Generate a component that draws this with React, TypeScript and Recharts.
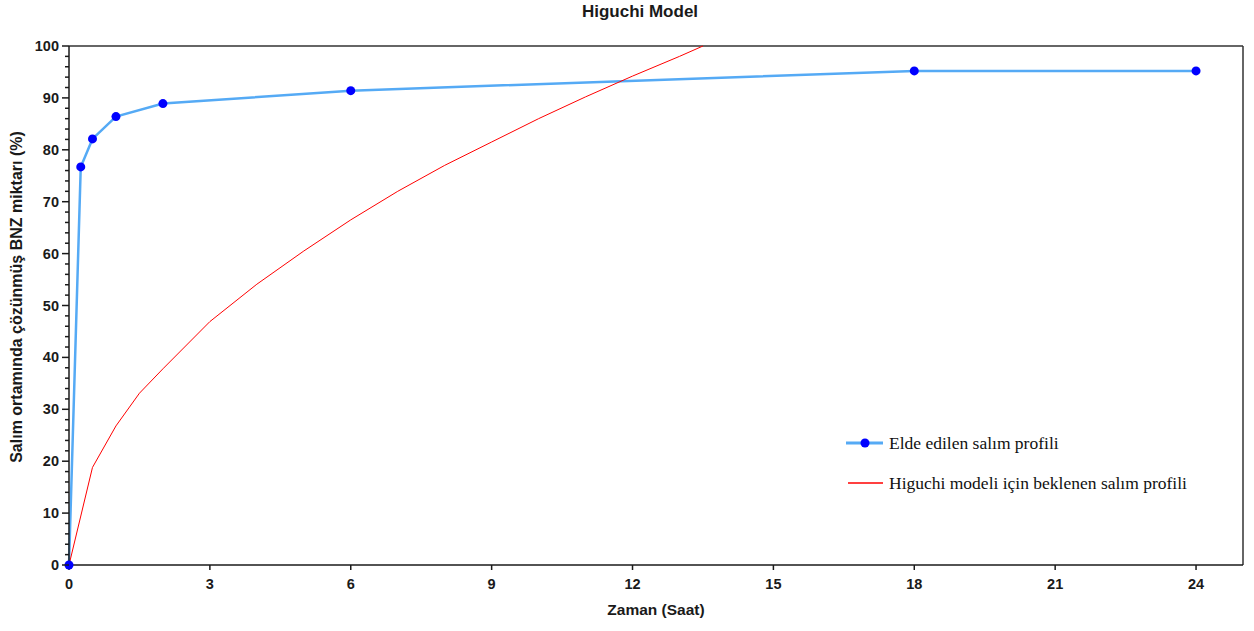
import {
  ComposedChart,
  Line,
  XAxis,
  YAxis,
  ReferenceLine,
} from "recharts";

// measured release profile (hours, %)
const obsHours = [0, 0.25, 0.5, 1, 2, 6, 18, 24];
const obsRelease = [0, 76.7, 82.1, 86.4, 88.9, 91.4, 95.2, 95.2];

// Higuchi model curve
const modelHours = [0, 0.5, 1, 1.5, 2, 3, 4, 5, 6, 7, 8, 9, 10, 11, 12, 13, 13.5];
const modelRelease = [0, 18.8, 26.8, 33.1, 37.8, 46.9, 54.1, 60.5, 66.5, 72, 77, 81.5, 86, 90.2, 94.2, 98, 100];

const xTicks = [0, 3, 6, 9, 12, 15, 18, 21, 24];
const yTicks = Array.from({ length: 51 }, (_, i) => i * 2);

const obsLabel = "Elde edilen salım profili";
const modelLabel = "Higuchi modeli için beklenen salım profili";

const observed = obsHours.map((t, i) => ({ t, v: obsRelease[i] }));
const model = modelHours.map((t, i) => ({ t, v: modelRelease[i] }));

const FONT = "'Liberation Sans', Arial, sans-serif";
const INK = "#1a1a1a";

function YTick(props: any) {
  const { x, y, payload } = props;
  const major = payload.value % 10 === 0;
  return (
    <g>
      <line x1={x - (major ? 7 : 4)} x2={x} y1={y} y2={y} stroke={INK} strokeWidth={1.5} />
      {major && (
        <text x={x - 10} y={y} dy={5} textAnchor="end" fontFamily={FONT} fontWeight="bold" fontSize={14.5} fill={INK}>
          {payload.value}
        </text>
      )}
    </g>
  );
}

function LegendBox() {
  const txt = { fontFamily: "'Liberation Serif', 'Times New Roman', serif", fontSize: 17.5, fill: "#111" };
  return (
    <svg width={420} height={70} style={{ position: "absolute", left: 840, top: 430 }}>
      <line x1={6} x2={43} y1={13} y2={13} stroke="#55aaf5" strokeWidth={3} />
      <circle cx={25} cy={13} r={4.5} fill="#0000ff" />
      <text x={49} y={19} {...txt}>{obsLabel}</text>
      <line x1={8} x2={43} y1={53} y2={53} stroke="#ff0000" strokeWidth={1.5} />
      <text x={49} y={59} {...txt}>{modelLabel}</text>
    </svg>
  );
}

export default function App() {
  return (
    <div style={{ position: "absolute", left: 0, top: 0, width: 1254, height: 631, background: "#fff" }}>
      <div
        style={{
          position: "absolute",
          left: 0,
          width: 1280,
          top: 2,
          textAlign: "center",
          fontFamily: FONT,
          fontWeight: "bold",
          fontSize: 17,
          color: INK,
        }}
      >
        Higuchi Model
      </div>
      <ComposedChart width={1254} height={631} margin={{ top: 46, right: 11, bottom: 16, left: 0 }}>
        <XAxis
          type="number"
          dataKey="t"
          domain={[0, 25]}
          ticks={xTicks}
          allowDuplicatedCategory={false}
          height={50}
          tickSize={5}
          tickMargin={9}
          stroke={INK}
          strokeWidth={1.5}
          tick={{ fontFamily: FONT, fontWeight: "bold", fontSize: 14.5, fill: INK }}
          label={{
            value: "Zaman (Saat)",
            position: "insideBottom",
            offset: 0,
            style: { fontFamily: FONT, fontWeight: "bold", fontSize: 15.5, fill: INK },
          }}
        />
        <YAxis
          type="number"
          dataKey="v"
          domain={[0, 100]}
          ticks={yTicks}
          interval={0}
          width={69}
          tickSize={0}
          tickMargin={0}
          tickLine={false}
          stroke={INK}
          strokeWidth={1.5}
          tick={<YTick />}
          label={{
            content: () => {
              const cx = 16;
              const cy = 297;
              return (
                <text
                  x={cx}
                  y={cy}
                  transform={`rotate(-90 ${cx} ${cy})`}
                  textAnchor="middle"
                  dominantBaseline="central"
                  fontFamily={FONT}
                  fontWeight="bold"
                  fontSize={16}
                  fill={INK}
                >
                  Salım ortamında çözünmüş BNZ miktarı (%)
                </text>
              );
            },
          }}
        />
        <ReferenceLine y={100} stroke="#333" strokeWidth={1.5} />
        <ReferenceLine x={25} stroke="#333" strokeWidth={1.5} />
        <Line
          data={observed}
          dataKey="v"
          name={obsLabel}
          type="linear"
          stroke="#55aaf5"
          strokeWidth={2.5}
          dot={{ r: 4.5, fill: "#0000ff", stroke: "#0000ff", strokeWidth: 0 }}
          activeDot={false}
          isAnimationActive={false}
        />
        <Line
          data={model}
          dataKey="v"
          name={modelLabel}
          type="linear"
          stroke="#ff0000"
          strokeWidth={1}
          dot={false}
          activeDot={false}
          isAnimationActive={false}
        />
      </ComposedChart>
      <LegendBox />
    </div>
  );
}
